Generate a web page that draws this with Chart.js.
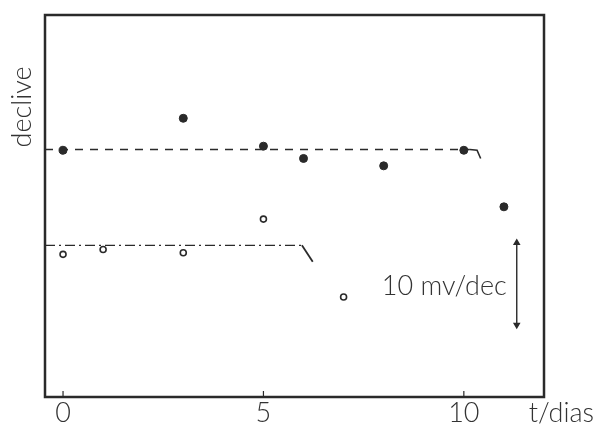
<!DOCTYPE html>
<html>
<head>
<meta charset="utf-8">
<script src="https://cdn.jsdelivr.net/npm/chart.js@4/dist/chart.umd.min.js"></script>
<style>
    html, body { margin: 0; padding: 0; background: #fff; }
    #wrap { width: 596px; height: 427px; }
</style>
</head>
<body>
<div id="wrap"><canvas id="chart"></canvas></div>
<script>
// slope (mV/dec) vs time (days)
const filledDays = [0, 3, 5, 6, 8, 10, 11];
const filledSlope = [30.1, 34.0, 30.6, 29.1, 28.2, 30.1, 23.2];
const openDays = [0, 1, 3, 5, 7];
const openSlope = [17.4, 18.0, 17.6, 21.7, 12.2];
const xTicks = [0, 5, 10];
const filledRef = 30.2;   // dashed line level
const openRef = 18.5;     // dash-dot line level
const scaleBar = [8.8, 18.8]; // 10 mV/dec bar

const X_MIN = -0.45, X_MAX = 12.0;
const Y_MIN = 0, Y_MAX = 46.6;

const ink = '#2a2a2a';
const textFont = '"Lato", "DejaVu Sans", sans-serif';

function pts(xs, ys) {
    return xs.map((x, i) => ({x: x, y: ys[i]}));
}

const framePlugin = {
    id: 'frame',
    afterDatasetsDraw(chart) {
        const ctx = chart.ctx;
        const a = chart.chartArea;
        const xs = chart.scales.x;
        const ys = chart.scales.y;
        ctx.save();
        // box
        ctx.strokeStyle = ink;
        ctx.lineWidth = 2.5;
        ctx.strokeRect(a.left, a.top, a.right - a.left, a.bottom - a.top);
        // inside ticks + labels
        ctx.lineWidth = 1.2;
        ctx.fillStyle = '#333';
        ctx.font = '300 27px ' + textFont;
        ctx.textAlign = 'center';
        ctx.textBaseline = 'top';
        xTicks.forEach(function (t) {
            const px = xs.getPixelForValue(t);
            ctx.beginPath();
            ctx.moveTo(px, a.bottom);
            ctx.lineTo(px, a.bottom - 6);
            ctx.stroke();
            ctx.fillText(String(t), px, a.bottom + 3);
        });
        ctx.textAlign = 'right';
        ctx.fillText('t/dias', 594, a.bottom + 3);
        // y label
        ctx.save();
        ctx.translate(22, 107);
        ctx.rotate(-Math.PI / 2);
        ctx.textAlign = 'center';
        ctx.textBaseline = 'middle';
        ctx.fillText('declive', 0, 0);
        ctx.restore();
        // scale bar label
        ctx.textAlign = 'right';
        ctx.textBaseline = 'middle';
        ctx.fillText('10 mv/dec', xs.getPixelForValue(11.32) - 10, ys.getPixelForValue((scaleBar[0] + scaleBar[1]) / 2) + 2);
        ctx.restore();
    }
};

new Chart(document.getElementById('chart'), {
    type: 'scatter',
    data: {
        datasets: [{
            // dashed reference, filled points
            type: 'line',
            data: [{x: X_MIN, y: filledRef}, {x: 10.15, y: filledRef}],
            borderColor: ink,
            borderWidth: 1.4,
            borderDash: [8, 7],
            pointRadius: 0
        }, {
            type: 'line',
            data: [{x: 10.15, y: filledRef}, {x: 10.33, y: filledRef - 0.1}, {x: 10.42, y: filledRef - 1.1}],
            borderColor: ink,
            borderWidth: 1.6,
            pointRadius: 0
        }, {
            // dash-dot reference, open points
            type: 'line',
            data: [{x: X_MIN, y: openRef}, {x: 5.96, y: openRef}],
            borderColor: ink,
            borderWidth: 1.4,
            borderDash: [10, 4, 2, 4],
            pointRadius: 0
        }, {
            type: 'line',
            data: [{x: 5.96, y: openRef}, {x: 6.23, y: openRef - 2.0}],
            borderColor: ink,
            borderWidth: 1.8,
            pointRadius: 0
        }, {
            // 10 mV/dec bar
            type: 'line',
            data: [{x: 11.32, y: scaleBar[0]}, {x: 11.32, y: scaleBar[1]}],
            borderColor: ink,
            borderWidth: 1.4,
            pointStyle: 'triangle',
            pointRadius: 3,
            pointRotation: [180, 0],
            pointBackgroundColor: ink,
            pointBorderColor: ink
        }, {
            data: pts(filledDays, filledSlope),
            backgroundColor: ink,
            borderColor: ink,
            pointRadius: 4,
            borderWidth: 1
        }, {
            data: pts(openDays, openSlope),
            backgroundColor: '#fff',
            borderColor: ink,
            pointRadius: 3,
            borderWidth: 1.6
        }]
    },
    options: {
        responsive: true,
        maintainAspectRatio: false,
        animation: false,
        layout: {
            padding: {left: 45, top: 15, right: 52, bottom: 30}
        },
        plugins: {
            legend: {display: false},
            tooltip: {enabled: false}
        },
        scales: {
            x: {type: 'linear', min: X_MIN, max: X_MAX, display: false},
            y: {type: 'linear', min: Y_MIN, max: Y_MAX, display: false}
        }
    },
    plugins: [framePlugin]
});
</script>
</body>
</html>
